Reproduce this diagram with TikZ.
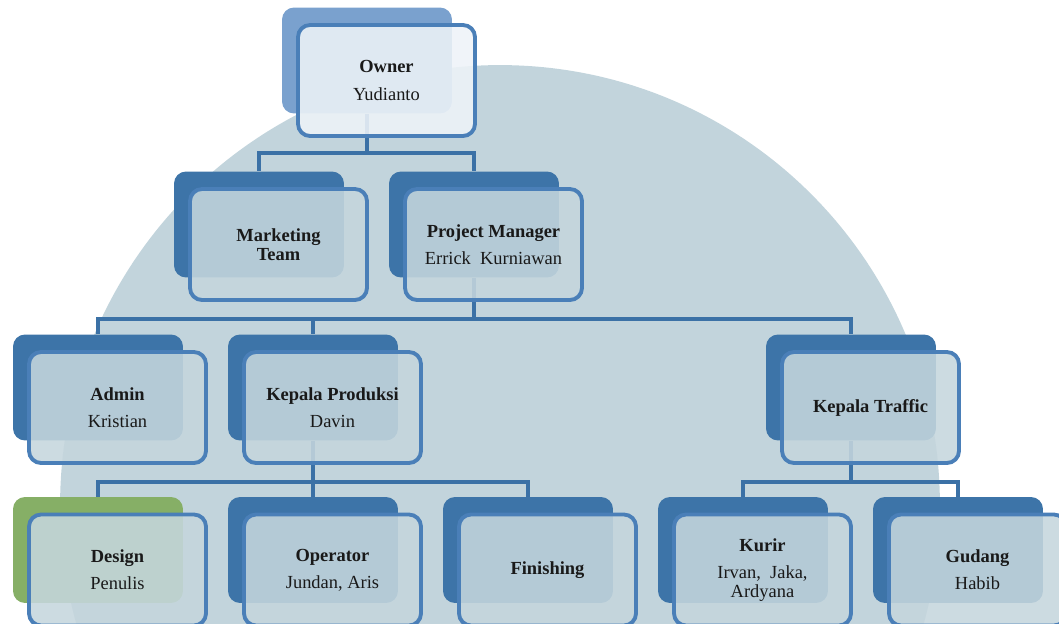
\documentclass[tikz,border=0pt]{standalone}
\usepackage{fontspec}
\setmainfont{Liberation Serif}
\definecolor{bgcircle}{HTML}{C2D4DC}
\definecolor{frontfill}{HTML}{C5D6DD}
\definecolor{topfill}{HTML}{EEF3F8}
\definecolor{backblue}{HTML}{3D74A8}
\definecolor{lightblue}{HTML}{7AA1CE}
\definecolor{backgreen}{HTML}{86AF66}
\definecolor{lineblue}{HTML}{3B71A6}
\definecolor{rimblue}{HTML}{4A7FB8}

\begin{document}
\begin{tikzpicture}[x=0.02cm, y=-0.02cm,
   backbox/.style={rectangle, rounded corners=2.4mm, fill=backblue, minimum width=3.4cm, minimum height=2.12cm, inner sep=0pt},
   frontbox/.style={rectangle, rounded corners=2.4mm, draw=rimblue, line width=2.2pt, fill=frontfill, fill opacity=0.88, draw opacity=1, text opacity=1, text=black!90, minimum width=3.54cm, minimum height=2.22cm, inner sep=0pt, align=center, font=\fontsize{10.5}{10.8}\selectfont},
   conn/.style={draw=lineblue, line width=2.3pt}]
   \useasboundingbox (0,0) rectangle (1059,623);
   \clip (0,0) rectangle (1059,623);
   \fill[bgcircle] (500,505) circle[radius=8.8cm];
   \begin{scope}[every node/.style={backbox}]
    \node (ownerb) at (367,60.5) [fill=lightblue] {};
    \node (mktb) at (259,224.5) {};
    \node (pmb) at (474,224.5) {};
    \node (adminb) at (98,387.5) {};
    \node (prodb) at (313,387.5) {};
    \node (trafficb) at (851,387.5) {};
    \node (designb) at (98,550) [fill=backgreen] {};
    \node (operatorb) at (313,550) {};
    \node (finishb) at (528,550) {};
    \node (kurirb) at (743,550) {};
    \node (gudangb) at (958,550) {};
   \end{scope}
   \begin{scope}[every path/.style={conn}]
    \draw (ownerb.south) -- ++(0,39) -| (mktb.north);
    \draw (ownerb.south) ++(0,39) -| (pmb.north);
    \draw (pmb.south) -- ++(0,41) -| (adminb.north);
    \draw (pmb.south) ++(0,41) -| (prodb.north);
    \draw (pmb.south) ++(0,41) -| (trafficb.north);
    \draw (prodb.south) -- ++(0,41) -| (designb.north);
    \draw (prodb.south) ++(0,41) -| (operatorb.north);
    \draw (prodb.south) ++(0,41) -| (finishb.north);
    \draw (trafficb.south) -- ++(0,41) -| (kurirb.north);
    \draw (trafficb.south) ++(0,41) -| (gudangb.north);
   \end{scope}
   \begin{scope}[every node/.style={frontbox}]
    \node (owner) at (386.5,80.5) [fill=topfill] {\textbf{Owner}\\[4.6pt]Yudianto};
    \node (mkt) at (278.5,244.5) {\textbf{Marketing}\\\textbf{Team}};
    \node (pm) at (493.5,244.5) {\textbf{Project Manager}\\[4.6pt]Errick~ Kurniawan};
    \node (admin) at (117.5,407.5) {\textbf{Admin}\\[4.6pt]Kristian};
    \node (prod) at (332.5,407.5) {\textbf{Kepala Produksi}\\[4.6pt]Davin};
    \node (traffic) at (870.5,407.5) {\textbf{Kepala Traffic}};
    \node (design) at (117.5,570) {\textbf{Design}\\[4.6pt]Penulis};
    \node (operator) at (332.5,570) {\textbf{Operator}\\[4.6pt]Jundan, Aris};
    \node (finish) at (547.5,570) {\textbf{Finishing}};
    \node (kurir) at (762.5,570) {\textbf{Kurir}\\[4.6pt]Irvan,~ Jaka,\\Ardyana};
    \node (gudang) at (977.5,570) {\textbf{Gudang}\\[4.6pt]Habib};
   \end{scope}
\end{tikzpicture}
\end{document}
